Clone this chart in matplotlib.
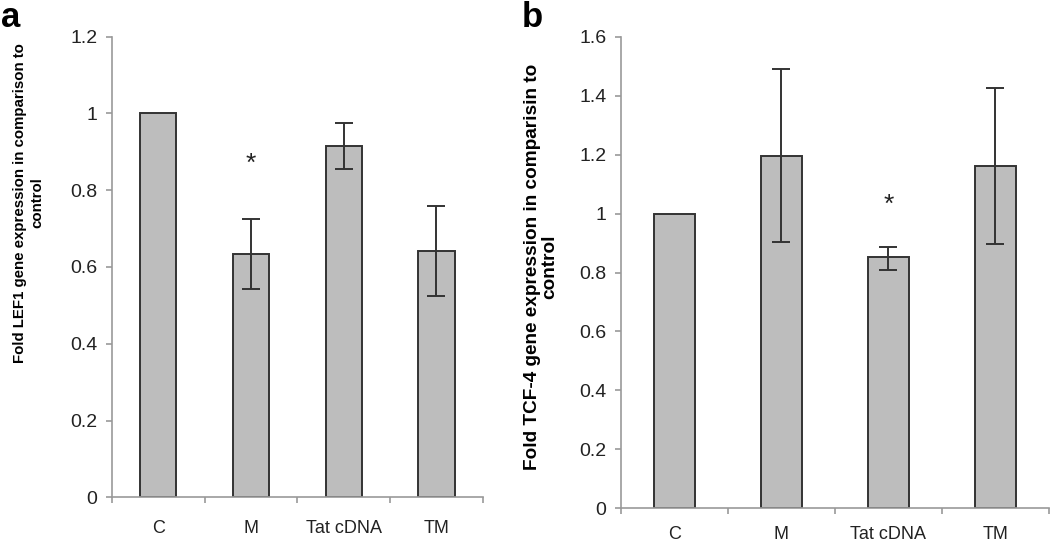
import matplotlib.pyplot as plt
import numpy as np

plt.rcParams['font.family'] = ['Liberation Sans', 'DejaVu Sans']

groups = ['C', 'M', 'Tat cDNA', 'TM']

# panel a - LEF1
lef1_mean = [1.0, 0.633, 0.915, 0.642]
lef1_low = [1.0, 0.542, 0.855, 0.524]
lef1_high = [1.0, 0.724, 0.975, 0.759]
lef1_star = [None, 0.87, None, None]

# panel b - TCF-4
tcf4_mean = [1.0, 1.196, 0.851, 1.161]
tcf4_low = [1.0, 0.903, 0.808, 0.896]
tcf4_high = [1.0, 1.489, 0.888, 1.426]
tcf4_star = [None, None, 1.03, None]


def panel(ax, mean, low, high, star, ymax, ystep, xpad):
    x = np.arange(len(groups))
    mean = np.array(mean)
    err = [mean - np.array(low), np.array(high) - mean]
    has_err = np.array(high) != np.array(low)
    ax.bar(x, mean, width=0.39, color='#bdbdbd', edgecolor='#333333',
           linewidth=1.4, zorder=2)
    ax.errorbar(x[has_err], mean[has_err], yerr=[e[has_err] for e in err],
                fmt='none', ecolor='#333333', elinewidth=1.4, capsize=6.5,
                capthick=1.4, zorder=3)
    for xi, s in zip(x, star):
        if s is not None:
            ax.text(xi, s, '*', ha='center', va='center', fontsize=19,
                    color='#222222')
    ax.set_xlim(-0.5, len(groups) - 0.5)
    ax.set_ylim(0, ymax)
    yt = np.arange(0, ymax + 0.001, ystep)
    ax.set_yticks(yt)
    ax.set_yticklabels(['%g' % round(v, 1) for v in yt])
    ax.set_xticks(x)
    ax.set_xticklabels(groups)
    ax.set_xticks(np.arange(-0.5, len(groups)), minor=True)
    ax.tick_params(axis='x', which='major', length=0, pad=xpad, labelsize=13,
                   labelcolor='#222222')
    ax.tick_params(axis='x', which='minor', length=4.5, color='#999999',
                   width=1.2, direction='out')
    ax.tick_params(axis='y', length=4.5, color='#999999', width=1.2,
                   labelsize=14, labelcolor='#222222', pad=6)
    for side in ['top', 'right']:
        ax.spines[side].set_visible(False)
    for side in ['left', 'bottom']:
        ax.spines[side].set_color('#999999')
        ax.spines[side].set_linewidth(1.2)
    ax.spines['bottom'].set_zorder(4)


fig = plt.figure(figsize=(10.5, 5.43), dpi=100)
ax1 = fig.add_axes([0.1067, 0.0842, 0.3531, 0.8482])
ax2 = fig.add_axes([0.5914, 0.0639, 0.4076, 0.8685])

panel(ax1, lef1_mean, lef1_low, lef1_high, lef1_star, 1.2, 0.2, 16)
panel(ax2, tcf4_mean, tcf4_low, tcf4_high, tcf4_star, 1.6, 0.2, 13)

ax1.set_ylabel('Fold LEF1 gene expression in comparison to\ncontrol',
               fontsize=10.8, fontweight='bold', linespacing=1.25)
ax1.yaxis.set_label_coords(-0.183, 0.639)
ax2.set_ylabel('Fold TCF-4 gene expression in comparisin to\ncontrol',
               fontsize=13.7, fontweight='bold', linespacing=1.0)
ax2.yaxis.set_label_coords(-0.147, 0.512)

fig.text(0.001, 0.998, 'a', fontsize=25, fontweight='bold', va='top')
fig.text(0.497, 0.998, 'b', fontsize=25, fontweight='bold', va='top')

fig.savefig('out.png', dpi=100)
